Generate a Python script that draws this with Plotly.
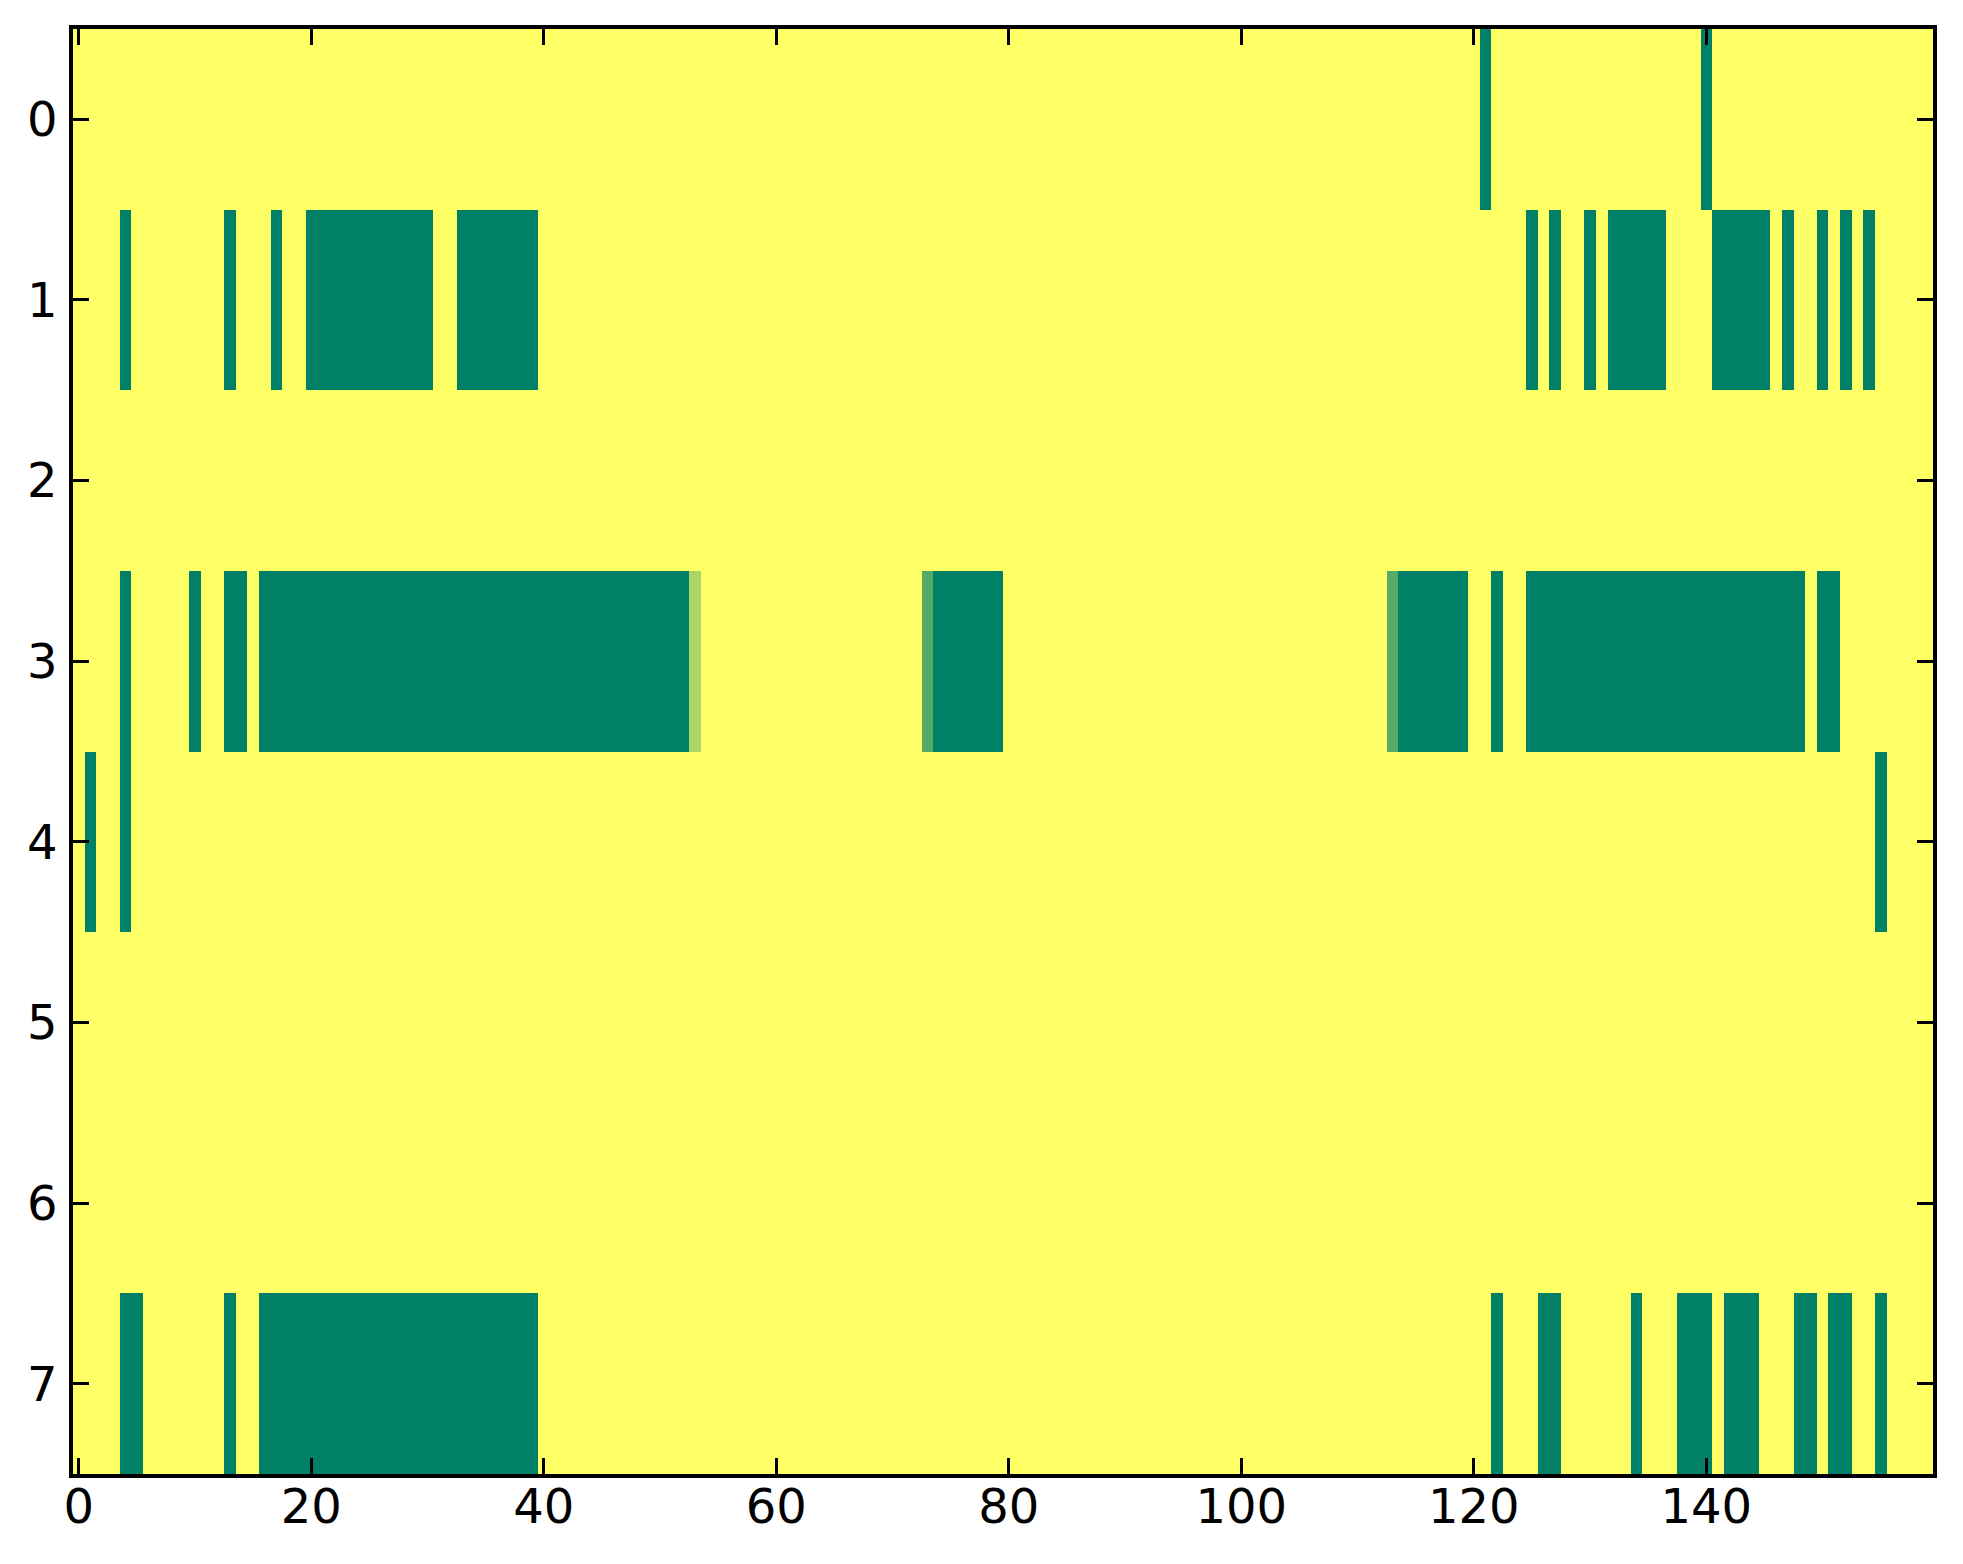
import numpy as np
import plotly.graph_objects as go

n_rows = 8
n_cols = 160

# green (value 0) runs per row, as inclusive (start, end) column ranges
row_runs = {
    0: [(121, 121), (140, 140)],
    1: [(4, 4), (13, 13), (17, 17), (20, 30), (33, 39),
        (125, 125), (127, 127), (130, 130), (132, 136), (141, 145),
        (147, 147), (150, 150), (152, 152), (154, 154)],
    2: [],
    3: [(4, 4), (10, 10), (13, 14), (16, 52), (74, 79), (114, 119),
        (122, 122), (125, 148), (150, 151)],
    4: [(1, 1), (4, 4), (155, 155)],
    5: [],
    6: [],
    7: [(4, 5), (13, 13), (16, 39), (122, 122), (126, 127), (134, 134),
        (138, 140), (142, 144), (148, 149), (151, 152), (155, 155)],
}

# in-between cells (row, col, value)
partial_cells = [(3, 53, 0.67), (3, 73, 0.33), (3, 113, 0.33)]

x_ticks = [0, 20, 40, 60, 80, 100, 120, 140]
y_ticks = [0, 1, 2, 3, 4, 5, 6, 7]

z = np.ones((n_rows, n_cols))
for r, runs in row_runs.items():
    for a, b in runs:
        z[r, a:b + 1] = 0.0
for r, c, v in partial_cells:
    z[r, c] = v

# matplotlib "summer"
summer = [[0.0, "rgb(0,128,102)"], [1.0, "rgb(255,255,102)"]]

fig = go.Figure(
    go.Heatmap(
        z=z,
        x=list(range(n_cols)),
        y=list(range(n_rows)),
        colorscale=summer,
        zmin=0,
        zmax=1,
        showscale=False,
    )
)

axis_style = dict(
    showline=True,
    linecolor="black",
    linewidth=3.5,
    mirror="ticks",
    ticks="inside",
    ticklen=16,
    tickwidth=2.5,
    tickcolor="black",
    showgrid=False,
    zeroline=False,
    tickfont=dict(family="DejaVu Sans", size=48, color="black"),
)

fig.update_xaxes(
    range=[-0.5, n_cols - 0.5],
    tickvals=x_ticks,
    ticklabelstandoff=-12,
    **axis_style,
)
fig.update_yaxes(
    range=[n_rows - 0.5, -0.5],
    tickvals=y_ticks,
    ticklabelstandoff=2,
    **axis_style,
)

# page body adds an 8px margin, so the figure is a little smaller than the window
fig.update_layout(
    width=1947,
    height=1548,
    margin=dict(l=65, r=22, t=21, b=82),
    paper_bgcolor="white",
    plot_bgcolor="white",
)

fig.write_html("out.html")
